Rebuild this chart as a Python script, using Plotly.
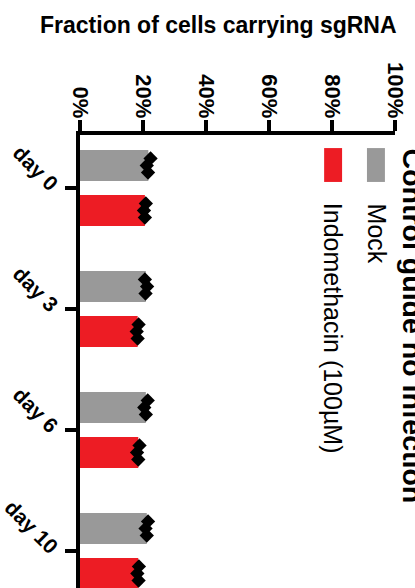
import plotly.graph_objects as go

# data
days = ["day 0", "day 3", "day 6", "day 10"]
mock_mean = [21.7, 20.9, 20.9, 21.2]
indo_mean = [20.6, 18.3, 18.5, 18.5]
mock_reps = [[22.4, 21.2, 21.6], [20.6, 21.3, 20.8], [21.5, 20.4, 20.9], [21.6, 20.8, 21.2]]
indo_reps = [[20.9, 20.3, 20.6], [18.6, 18.0, 18.3], [18.9, 18.1, 18.5], [18.7, 18.2, 18.6]]
tick_vals = [0, 20, 40, 60, 80, 100]
tick_text = ["0%", "20%", "40%", "60%", "80%", "100%"]

GRAY = "#999999"
RED = "#ED1C24"
FONT = "Liberation Sans, Arial, sans-serif"

bar_w = 0.256
shift = 0.186
rep_off = [-0.058, 0.0, 0.058]

idx = list(range(len(days)))

fig = go.Figure()

for means, reps, color, sign in [(mock_mean, mock_reps, GRAY, -1), (indo_mean, indo_reps, RED, 1)]:
    pos = [i + sign * shift for i in idx]
    fig.add_trace(go.Bar(
        x=means, y=pos, orientation="h", width=bar_w,
        marker=dict(color=color, line=dict(width=0)),
    ))
    px, py = [], []
    for p, r in zip(pos, reps):
        for v, o in zip(r, rep_off):
            px.append(v)
            py.append(p + o)
    fig.add_trace(go.Scatter(
        x=px, y=py, mode="markers",
        marker=dict(symbol="diamond", size=11, color="black", line=dict(width=0)),
    ))

# legend swatches + labels (drawn rotated like the source)
fig.add_shape(type="rect", x0=91.1, x1=96.8, y0=-0.33, y1=-0.05,
              fillcolor=GRAY, line=dict(width=0))
fig.add_shape(type="rect", x0=77.5, x1=83.2, y0=-0.33, y1=-0.05,
              fillcolor=RED, line=dict(width=0))
fig.add_annotation(x=94.2, y=0.11, xref="x", yref="y", text="Mock",
                   textangle=90, showarrow=False, xanchor="center", yanchor="top",
                   font=dict(family=FONT, size=25, color="black"))
fig.add_annotation(x=80.3, y=0.11, xref="x", yref="y", text="Indomethacin (100µM)",
                   textangle=90, showarrow=False, xanchor="center", yanchor="top",
                   font=dict(family=FONT, size=25, color="black"))

# chart title, rotated and cut at the right edge
fig.add_annotation(x=1.06, y=0.9735, xref="paper", yref="paper",
                   text="<b>Control guide no infection</b>", textangle=90,
                   showarrow=False, xanchor="center", yanchor="top",
                   font=dict(family=FONT, size=28.5, color="black"))

# value axis title
fig.add_annotation(x=0.441, y=1.243, xref="paper", yref="paper",
                   text="<b>Fraction of cells carrying sgRNA</b>",
                   showarrow=False, xanchor="center", yanchor="middle",
                   font=dict(family=FONT, size=23, color="black"))

fig.update_layout(
    width=415, height=588,
    margin=dict(l=80, r=20, t=135, b=0),
    plot_bgcolor="white", paper_bgcolor="white",
    showlegend=False,
    xaxis=dict(
        side="top", range=[0, 100], tickvals=tick_vals, ticktext=tick_text,
        tickangle=90, ticks="outside", ticklen=11, tickwidth=3.5, tickcolor="black",
        ticklabelstandoff=-6,
        showline=True, linewidth=4, linecolor="black", showgrid=False, zeroline=False,
        tickfont=dict(family=FONT, size=22, color="black", weight="bold"),
    ),
    yaxis=dict(
        range=[3.306, -0.438], tickvals=idx, ticktext=days,
        tickangle=45, ticks="outside", ticklen=11, tickwidth=3.5, tickcolor="black",
        ticklabelstandoff=4,
        showline=True, linewidth=4, linecolor="black", showgrid=False, zeroline=False,
        tickfont=dict(family=FONT, size=21, color="black", weight="bold"),
    ),
)

fig.write_html("out.html", config={"displayModeBar": False},
               post_script="document.body.style.margin='0';")
